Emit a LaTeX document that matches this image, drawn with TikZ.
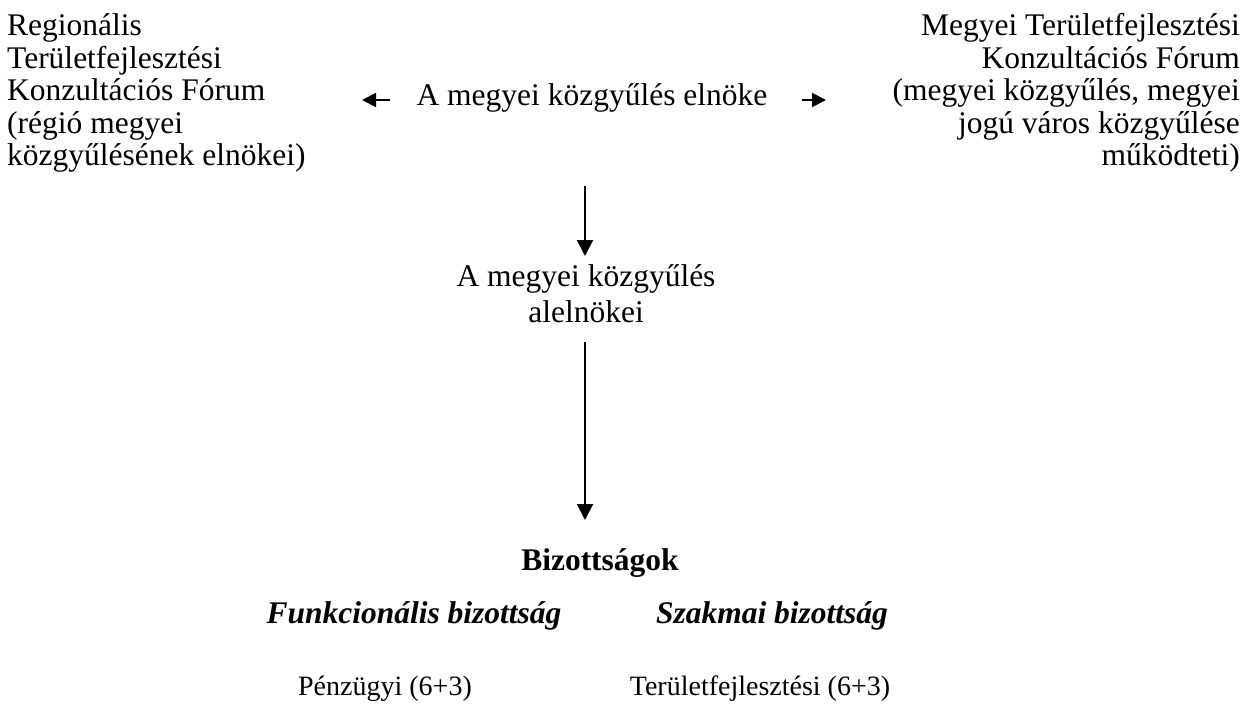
\documentclass[tikz,border=0pt]{standalone}
\usepackage{fontspec}
\setmainfont{Liberation Serif}
\usetikzlibrary{arrows.meta}

\begin{document}
\begin{tikzpicture}[x=1pt,y=-1pt,
    every node/.style={inner sep=0pt,font=\fontsize{31.5}{35.6}\selectfont},
    harr/.style={line width=2pt,-{Triangle[length=14pt,width=14pt]}},
    varr/.style={line width=2pt,-{Triangle[length=16pt,width=16pt]}}]
    \useasboundingbox (0,0) rectangle (1247,706);
    % top row
    \node [anchor=base west,align=left,font=\fontsize{31.5}{32.4}\selectfont] (regio) at (7,165.6) {Regionális\\Területfejlesztési\\Konzultációs Fórum\\(régió megyei\\közgyűlésének elnökei)};
    \node [anchor=base east,align=right,font=\fontsize{31.5}{32.4}\selectfont] (megye) at (1240,165.6) {Megyei Területfejlesztési\\Konzultációs Fórum\\(megyei közgyűlés, megyei\\jogú város közgyűlése\\működteti)};
    \node [anchor=base] (elnok) at (592,106) {A megyei közgyűlés elnöke};
    \coordinate (la) at (390,100);
    \coordinate (lb) at (362,100);
    \coordinate (ra) at (802,100);
    \coordinate (rb) at (826,100);
    \draw [harr] (la) -- (lb);
    \draw [harr] (ra) -- (rb);
    % vice presidents
    \node [anchor=base,align=center] (alel) at (586,322) {A megyei közgyűlés\\alelnökei};
    \coordinate (v1) at (585,186);
    \coordinate (v2) at (585,256);
    \draw [varr] (v1) -- (v2);
    % committees
    \node [anchor=base,font=\fontsize{31.5}{35.6}\selectfont\bfseries] (biz) at (600,570) {Bizottságok};
    \coordinate (v3) at (585,342);
    \coordinate (v4) at (585,520);
    \draw [varr] (v3) -- (v4);
    \node [anchor=base,font=\fontsize{31.5}{35.6}\selectfont\bfseries\itshape] (funk) at (414,623) {Funkcionális bizottság};
    \node [anchor=base,font=\fontsize{31.5}{35.6}\selectfont\bfseries\itshape] (szak) at (772,623) {Szakmai bizottság};
    \node [anchor=base,font=\fontsize{28}{32}\selectfont] (penz) at (385,695) {Pénzügyi (6+3)};
    \node [anchor=base,font=\fontsize{28}{32}\selectfont] (terf) at (760,695) {Területfejlesztési (6+3)};
\end{tikzpicture}
\end{document}
